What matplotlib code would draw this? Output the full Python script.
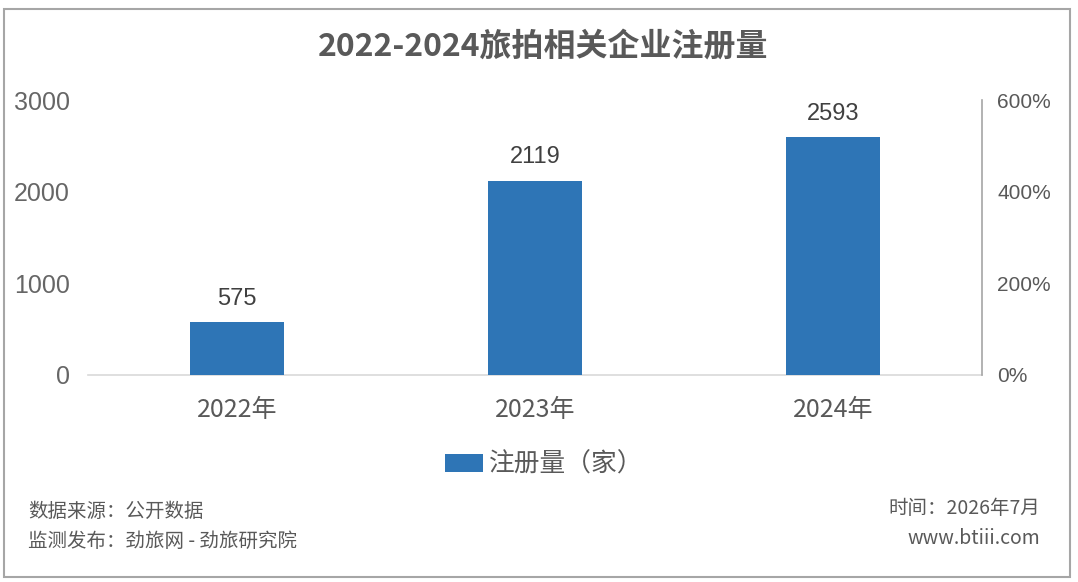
import matplotlib
matplotlib.use("Agg")
import matplotlib.pyplot as plt
from matplotlib.patches import Rectangle, Patch
from matplotlib.ticker import FuncFormatter

plt.rcParams['font.family'] = ['Noto Sans CJK SC', 'DejaVu Sans']
NUM_FONT = ['Liberation Sans', 'Noto Sans CJK SC']

categories = ["2022年", "2023年", "2024年"]
values = [575, 2119, 2593]
left_ticks = [0, 1000, 2000, 3000]
right_ticks = [0, 2, 4, 6]
title = "2022-2024旅拍相关企业注册量"
legend_label = "注册量（家）"

fig = plt.figure(figsize=(10.78, 5.82), dpi=100)
fig.patch.set_facecolor("white")
# outer border
fig.add_artist(Rectangle((4/1078, 1-577/582), (1070-4)/1078, (577-9)/582,
                         transform=fig.transFigure, fill=False,
                         edgecolor="#A6A6A6", linewidth=1.5))

ax = fig.add_axes([88/1078, 1-375/582, (982-88)/1078, (375-100)/582])
x = range(len(categories))
bars = ax.bar(x, values, width=0.315, color="#2E75B6", label=legend_label, zorder=3)
ax.set_xlim(-0.5, len(categories)-0.5)
ax.set_ylim(0, 3000)
ax.set_yticks(left_ticks)
ax.set_xticks(list(x))
ax.set_xticklabels(categories)
for s in ["top", "left", "right"]:
    ax.spines[s].set_visible(False)
ax.spines["bottom"].set_color("#D9D9D9")
ax.spines["bottom"].set_linewidth(1.2)
ax.tick_params(axis="y", length=0, pad=13, labelsize=18, labelcolor="#666666")
for t in ax.get_yticklabels():
    t.set_family(NUM_FONT)
ax.tick_params(axis="x", length=0, pad=16, labelsize=18, labelcolor="#595959")

for xi, v in zip(x, values):
    ax.annotate(f"{v}", (xi, v), xytext=(0, 9), textcoords="offset points",
                ha="center", va="bottom", fontsize=17, color="#404040",
                family=NUM_FONT)

ax2 = ax.twinx()
ax2.set_ylim(0, 6)
ax2.set_yticks(right_ticks)
ax2.yaxis.set_major_formatter(FuncFormatter(lambda v, p: f"{int(round(v*100))}%"))
for s in ["top", "left", "bottom"]:
    ax2.spines[s].set_visible(False)
ax2.spines["right"].set_color("#A6A6A6")
ax2.spines["right"].set_linewidth(1.2)
ax2.tick_params(axis="y", length=0, pad=11, labelsize=15, labelcolor="#595959")
for t in ax2.get_yticklabels():
    t.set_family(NUM_FONT)

fig.text(543/1078, 1-47/582, title, ha="center", va="center",
         fontsize=23, fontweight="bold", color="#595959")

fig.legend(handles=[Patch(facecolor="#2E75B6", label=legend_label)],
           loc="center", bbox_to_anchor=(544/1078, 1-465/582), frameon=False,
           fontsize=18.5, labelcolor="#595959", handlelength=1.48, handleheight=0.66,
           handletextpad=0.25)

fc = "#595959"
fig.text(28/1078, 1-511/582, "数据来源：公开数据", ha="left", va="center", fontsize=14, color=fc)
fig.text(28/1078, 1-541/582, "监测发布：劲旅网 - 劲旅研究院", ha="left", va="center", fontsize=14, color=fc)
fig.text(1040/1078, 1-508/582, "时间：2026年7月", ha="right", va="center", fontsize=14, color=fc)
fig.text(1040/1078, 1-538/582, "www.btiii.com", ha="right", va="center", fontsize=14, color=fc)

fig.savefig("out.png", dpi=100)
